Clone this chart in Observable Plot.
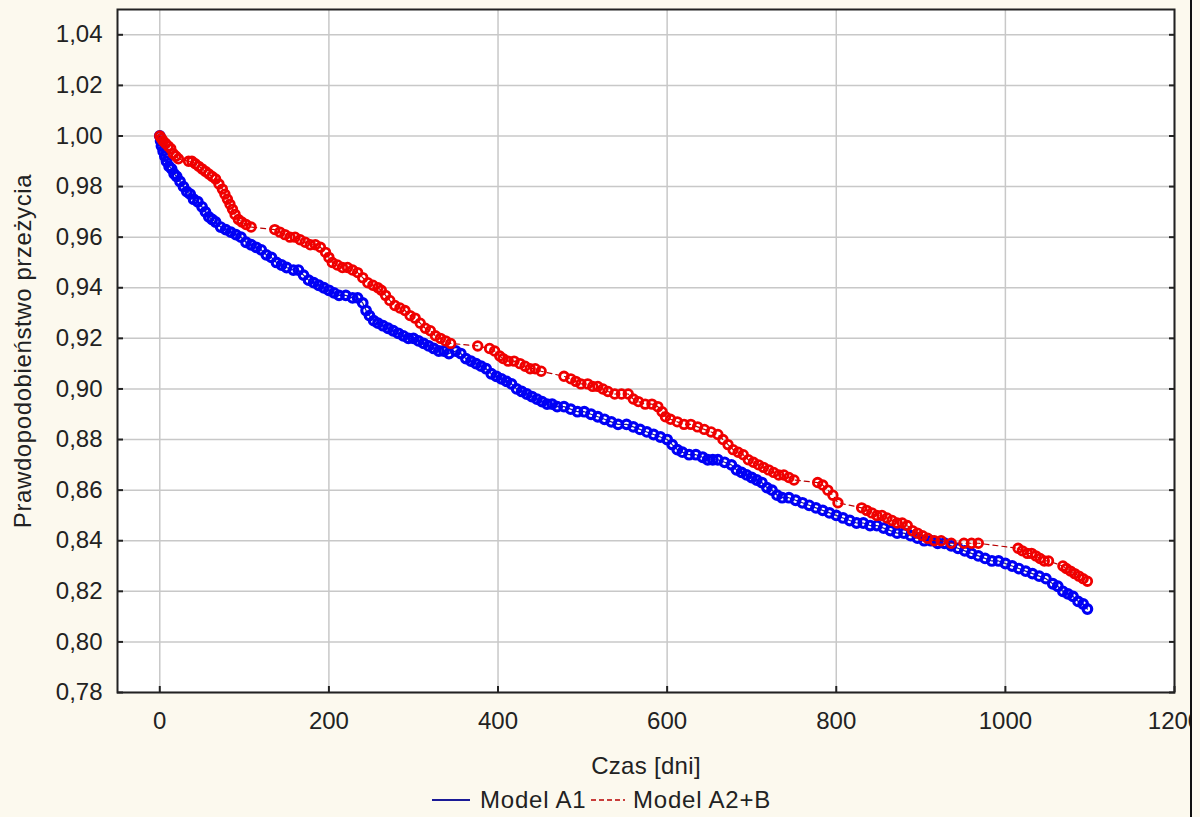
<!DOCTYPE html>
<html>
<head>
<meta charset="utf-8">
<script src="https://cdn.jsdelivr.net/npm/d3@7"></script>
<script src="https://cdn.jsdelivr.net/npm/@observablehq/plot@0.6"></script>
<style>
  html, body { margin: 0; padding: 0; background: #fcf9ee; }
  #wrap { position: relative; width: 1190px; height: 817px; overflow: hidden; border-right: 2px solid #111; background: #fcf9ee; }
  #chart { width: 1200px; }
  #chart svg { max-width: none !important; display: block; }
  #legend { position: absolute; left: 0; top: 782px; width: 1190px; height: 35px; font-family: "Liberation Sans", Arial, sans-serif; font-size: 24px; letter-spacing: 0.8px; color: #222; }
  #legend .item { position: absolute; top: 0; line-height: 35px; white-space: nowrap; }
  #legend svg { position: absolute; top: 0; }
</style>
</head>
<body>
<div id="wrap">
  <div id="chart"></div>
  <div id="legend"></div>
</div>
<script>
// ---- data ----
const xTicks = [0, 200, 400, 600, 800, 1000, 1200];
const yTicks = [0.78, 0.80, 0.82, 0.84, 0.86, 0.88, 0.90, 0.92, 0.94, 0.96, 0.98, 1.00, 1.02, 1.04];
const seriesNames = ["Model A1", "Model A2+B"];
const xLabel = "Czas [dni]";
const yLabel = "Prawdopodobieństwo przeżycia";

const a1Days = [0,1,2,4,6,8,11,14,17,20,24,28,32,36,40,45,50,54,58,62,66,72,78,84,90,96,102,108,114,120,126,132,138,144,150,158,164,170,176,182,188,194,200,206,212,220,228,234,240,244,248,253,258,264,270,276,282,288,294,300,306,312,318,324,330,336,342,350,356,362,368,374,380,386,392,398,404,410,416,422,428,434,440,446,452,458,464,470,478,486,494,502,510,518,526,534,542,552,560,568,576,584,592,600,606,612,618,626,634,642,648,654,660,668,676,682,688,694,700,706,712,718,724,730,736,744,752,760,768,776,784,792,800,808,816,824,832,840,848,856,864,872,880,888,896,904,912,920,928,936,944,952,960,968,976,984,992,1000,1008,1016,1024,1032,1040,1048,1056,1062,1068,1074,1080,1086,1092,1097];
const a1Surv = [1.000,0.998,0.996,0.994,0.992,0.990,0.988,0.987,0.985,0.984,0.982,0.980,0.978,0.977,0.975,0.974,0.972,0.970,0.968,0.967,0.966,0.964,0.963,0.962,0.961,0.960,0.958,0.957,0.956,0.955,0.953,0.952,0.950,0.949,0.948,0.947,0.947,0.945,0.943,0.942,0.941,0.940,0.939,0.938,0.937,0.937,0.936,0.936,0.934,0.931,0.929,0.927,0.926,0.925,0.924,0.923,0.922,0.921,0.920,0.920,0.919,0.918,0.917,0.916,0.915,0.915,0.914,0.915,0.914,0.912,0.911,0.910,0.909,0.908,0.906,0.905,0.904,0.903,0.902,0.900,0.899,0.898,0.897,0.896,0.895,0.894,0.894,0.893,0.893,0.892,0.891,0.891,0.890,0.889,0.888,0.887,0.886,0.886,0.885,0.884,0.883,0.882,0.881,0.880,0.878,0.876,0.875,0.874,0.874,0.873,0.872,0.872,0.872,0.871,0.870,0.868,0.867,0.866,0.865,0.864,0.863,0.861,0.860,0.858,0.857,0.857,0.856,0.855,0.854,0.853,0.852,0.851,0.850,0.849,0.848,0.847,0.847,0.846,0.846,0.845,0.844,0.843,0.843,0.842,0.841,0.840,0.840,0.839,0.839,0.838,0.837,0.836,0.835,0.834,0.833,0.832,0.832,0.831,0.830,0.829,0.828,0.827,0.826,0.825,0.823,0.822,0.820,0.819,0.818,0.816,0.815,0.813];

const a2bDays = [0,2,4,7,10,13,16,19,22,34,38,42,46,50,54,58,62,66,70,74,77,80,83,86,89,93,97,102,108,136,142,148,154,160,166,172,178,184,190,196,200,204,210,216,222,228,234,240,246,252,258,262,267,272,278,284,290,296,302,308,314,320,326,332,338,344,376,390,396,402,406,412,419,426,432,438,444,451,478,486,492,498,506,512,518,524,530,538,546,554,560,566,574,582,589,594,598,604,612,620,628,636,644,652,660,666,672,678,684,690,696,702,708,714,720,726,732,738,744,750,778,784,790,796,802,830,836,842,848,854,860,866,872,878,884,890,896,902,908,916,924,936,951,960,968,1015,1020,1026,1031,1036,1041,1046,1051,1068,1072,1077,1082,1087,1092,1097];
const a2bSurv = [1.000,0.999,0.998,0.997,0.996,0.995,0.993,0.992,0.991,0.990,0.990,0.989,0.988,0.987,0.986,0.985,0.984,0.983,0.981,0.979,0.977,0.975,0.973,0.971,0.969,0.967,0.966,0.965,0.964,0.963,0.962,0.961,0.960,0.960,0.959,0.958,0.957,0.957,0.956,0.954,0.952,0.950,0.949,0.948,0.948,0.947,0.946,0.944,0.942,0.941,0.940,0.939,0.937,0.935,0.933,0.932,0.931,0.929,0.928,0.926,0.924,0.923,0.921,0.920,0.919,0.918,0.917,0.916,0.915,0.913,0.912,0.911,0.911,0.910,0.909,0.908,0.908,0.907,0.905,0.904,0.903,0.902,0.902,0.901,0.901,0.900,0.899,0.898,0.898,0.898,0.896,0.895,0.894,0.894,0.893,0.891,0.889,0.888,0.887,0.886,0.886,0.885,0.884,0.883,0.882,0.880,0.878,0.876,0.875,0.874,0.872,0.871,0.870,0.869,0.868,0.867,0.866,0.866,0.865,0.864,0.863,0.862,0.860,0.858,0.855,0.853,0.852,0.851,0.850,0.850,0.849,0.848,0.847,0.847,0.846,0.844,0.843,0.842,0.841,0.840,0.840,0.839,0.839,0.839,0.839,0.837,0.836,0.835,0.835,0.834,0.833,0.832,0.832,0.830,0.829,0.828,0.827,0.826,0.825,0.824];

// ---- tables ----
const a1 = a1Days.map((d, i) => ({day: d, p: a1Surv[i]}));
const a2b = a2bDays.map((d, i) => ({day: d, p: a2bSurv[i]}));

const blueLine = "#1a1a96", blueDot = "#0000f5";
const redLine = "#b80000", redDot = "#f00000";
const fmtY = d => d3.format(".2f")(d).replace(".", ",");

const chart = Plot.plot({
  width: 1200,
  height: 782,
  marginLeft: 117,
  marginRight: 26,
  marginTop: 9,
  marginBottom: 90,
  style: {fontFamily: "'Liberation Sans', Arial, sans-serif", fontSize: "24px", background: "transparent", color: "#222", overflow: "visible", maxWidth: "none"},
  x: {domain: [-50, 1200]},
  y: {domain: [0.78, 1.05]},
  marks: [
    Plot.frame({fill: "white", stroke: null}),
    Plot.gridX({ticks: xTicks, stroke: "#c8c8c8", strokeOpacity: 1, strokeWidth: 1.5}),
    Plot.gridY({ticks: yTicks, stroke: "#c8c8c8", strokeOpacity: 1, strokeWidth: 1.5}),
    Plot.line(a1, {x: "day", y: "p", stroke: blueLine, strokeWidth: 1.2}),
    Plot.dot(a1, {x: "day", y: "p", r: 4.3, stroke: blueDot, strokeWidth: 3.2, fill: "none"}),
    Plot.line(a2b, {x: "day", y: "p", stroke: redLine, strokeWidth: 1.2, strokeDasharray: "5,4"}),
    Plot.dot(a2b, {x: "day", y: "p", r: 4.3, stroke: redDot, strokeWidth: 2.8, fill: "none"}),
    Plot.axisX({ticks: xTicks, tickSize: -6, tickPadding: 25, label: null, tickFormat: d => String(d), strokeWidth: 2}),
    Plot.axisY({ticks: yTicks, tickSize: -6, tickPadding: 21, label: null, tickFormat: fmtY, strokeWidth: 2}),
    Plot.axisY({anchor: "right", ticks: yTicks, tickSize: -6, label: null, tickFormat: () => "", strokeWidth: 2}),
    Plot.frame({stroke: "#222", strokeWidth: 2}),
    Plot.text([xLabel], {frameAnchor: "bottom", dy: 74, lineAnchor: "middle", textAnchor: "middle", fontSize: 24, fill: "#222"}),
    Plot.text([yLabel], {frameAnchor: "left", dx: -94, rotate: -90, lineAnchor: "middle", textAnchor: "middle", fontSize: 24, fill: "#222"})
  ]
});
// slight letter spacing on the axis titles
chart.querySelectorAll("text").forEach(t => { if (t.textContent === yLabel) t.setAttribute("letter-spacing", "0.6"); if (t.textContent === xLabel) t.setAttribute("letter-spacing", "0.3"); });
document.getElementById("chart").appendChild(chart);

// ---- legend ----
const lg = document.getElementById("legend");
lg.innerHTML =
  `<svg width="40" height="35" style="left:430px"><line x1="2" x2="40" y1="18" y2="18" stroke="${blueLine}" stroke-width="2"/></svg>` +
  `<span class="item" style="left:480px">${seriesNames[0]}</span>` +
  `<svg width="36" height="35" style="left:590px"><line x1="1" x2="35" y1="18" y2="18" stroke="${redLine}" stroke-width="1.5" stroke-dasharray="5,3"/></svg>` +
  `<span class="item" style="left:633px">${seriesNames[1]}</span>`;
</script>
</body>
</html>
